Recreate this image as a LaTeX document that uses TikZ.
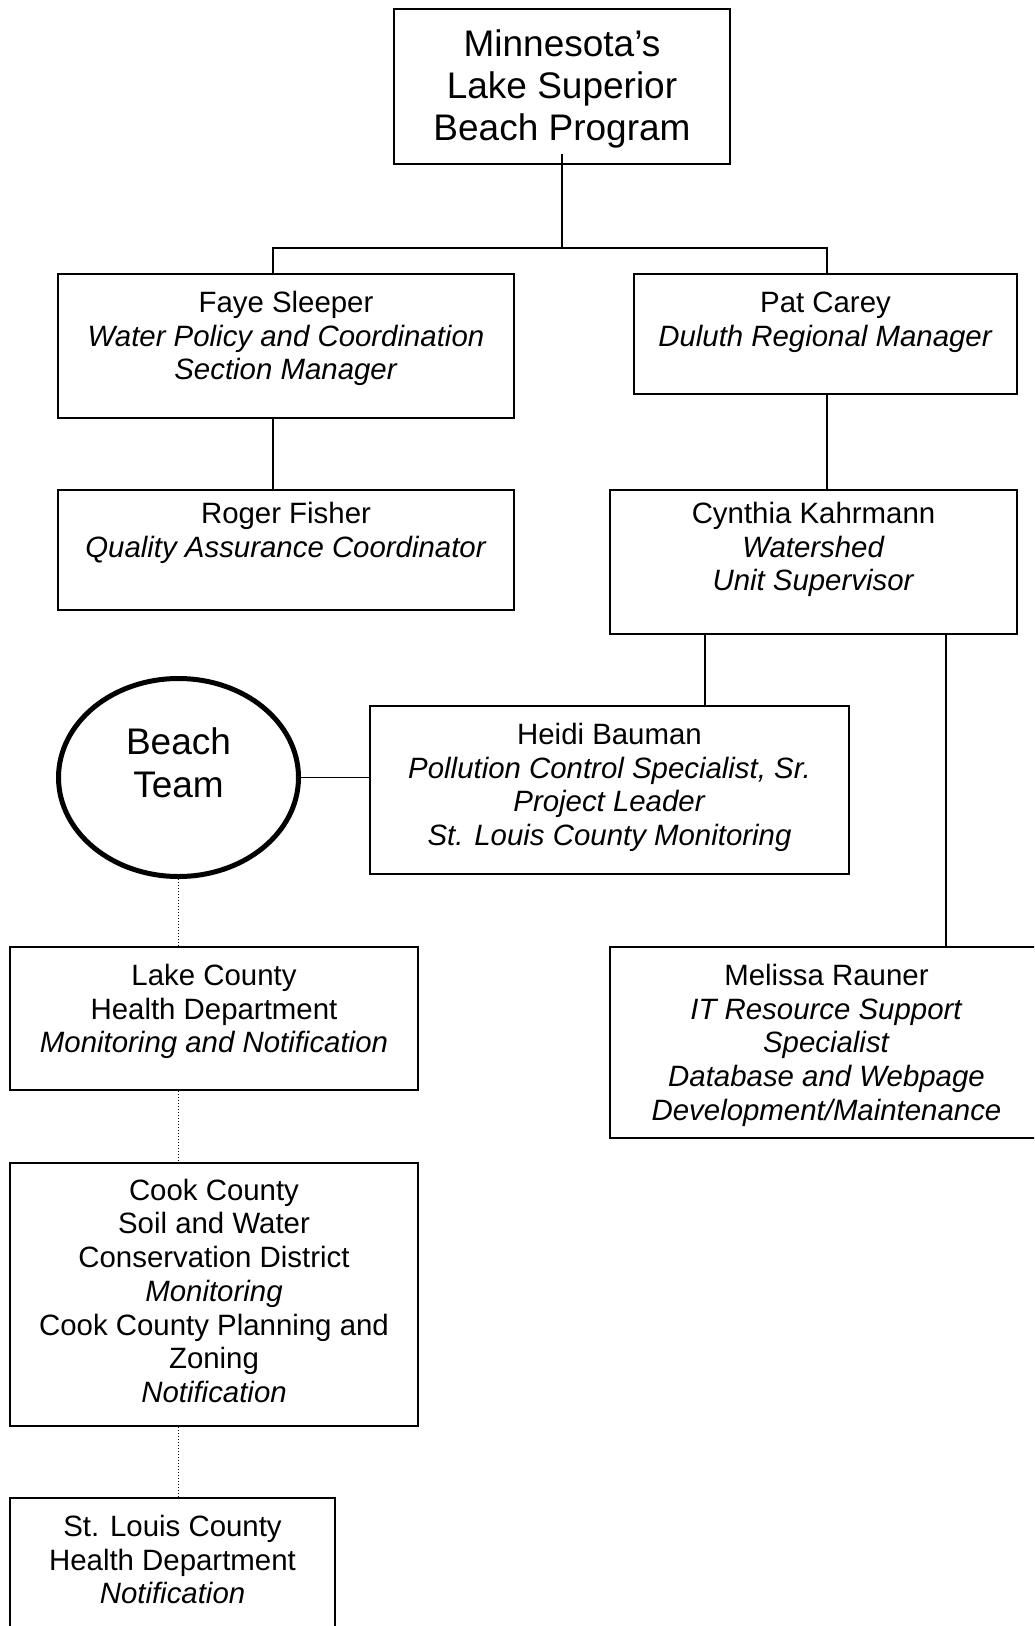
\documentclass[tikz,border=0pt]{standalone}
\usepackage{fontspec}
\setmainfont{Liberation Sans}
\usetikzlibrary{shapes.geometric,positioning}
\newcommand{\boxtext}[4][19.2pt]{\parbox[c][#3][t]{#2}{\centering\rule{0pt}{#1}#4}}

\begin{document}
\begin{tikzpicture}[
    x=0.5pt, y=-0.5pt,
    unit/.style={draw, line width=1pt, inner sep=0pt, anchor=north, font=\fontsize{14.7pt}{16.85pt}\selectfont},
    team/.style={draw, ellipse, line width=2.5pt, inner sep=0pt, minimum width=120pt, minimum height=99pt, font=\fontsize{18.5pt}{21.3pt}\selectfont},
    link/.style={line width=0.6pt},
    partner/.style={densely dotted, line width=0.5pt}
]
    \clip (0,0) rectangle (1034,1626);

    % program and managers
    \node[unit, font=\fontsize{18.5pt}{21pt}\selectfont] (program) at (562,8) {\boxtext[23.6pt]{168pt}{77.5pt}{Minnesota’s\\Lake Superior\\Beach Program}};
    \node[unit] (faye) at (286,273) {\boxtext{228pt}{72pt}{Faye Sleeper\\\textit{Water Policy and Coordination}\\\textit{Section Manager}}};
    \node[unit] (pat) at (825.5,273) {\boxtext{191.5pt}{60pt}{Pat Carey\\\textit{Duluth Regional Manager}}};
    \node[unit, below=35pt of faye] (roger) {\boxtext[16.7pt]{228pt}{60pt}{Roger Fisher\\\textit{Quality Assurance Coordinator}}};
    \node[unit] (cynthia) at (813.5,489) {\boxtext[16.7pt]{203.5pt}{72pt}{Cynthia Kahrmann\\\textit{Watershed}\\\textit{Unit Supervisor}}};
    \node[unit] (heidi) at (609.5,705) {\boxtext{239.5pt}{84pt}{Heidi Bauman\\\textit{Pollution Control Specialist, Sr.}\\\textit{Project Leader}\\\textit{St. Louis County Monitoring}}};
    \node[unit] (melissa) at (826.5,946) {\boxtext{216.5pt}{95.5pt}{Melissa Rauner\\\textit{IT Resource Support}\\\textit{Specialist}\\\textit{Database and Webpage}\\\textit{Development/Maintenance}}};

    % beach team and partners
    \node[team] (team) at (178.5,777.5) {\parbox[c][50pt][t]{60pt}{\centering\rule{0pt}{13.7pt}Beach\\Team}};
    \node[unit] (lake) at (214,946) {\boxtext{204pt}{71.5pt}{Lake County\\Health Department\\\textit{Monitoring and Notification}}};
    \node[unit, below=35.5pt of lake] (cook) {\boxtext[18.6pt]{204pt}{131.5pt}{Cook County\\Soil and Water\\Conservation District\\\textit{Monitoring}\\Cook County Planning and\\Zoning\\\textit{Notification}}};
    \node[unit] (stlouis) at (172.5,1497) {\boxtext{162.5pt}{71.5pt}{St. Louis County\\Health Department\\\textit{Notification}}};

    \coordinate (bus) at (562,248);
    \coordinate (busL) at (273,248);
    \coordinate (busR) at (827,248);
    \coordinate (tapH) at (705,0);
    \coordinate (tapM) at (946,0);

    \draw[link] ([yshift=5.5pt]program.south) -- (bus);
    \draw[link] (busL |- faye.north) -- (busL) -- (busR) -- (busR |- pat.north);
    \draw[link] (busL |- faye.south) -- (busL |- roger.north);
    \draw[link] (busR |- pat.south) -- (busR |- cynthia.north);
    \draw[link] (tapH |- cynthia.south) -- (tapH |- heidi.north);
    \draw[link] (tapM |- cynthia.south) -- (tapM |- melissa.north);
    \draw[link] (team.east) -- (team.east -| heidi.west);
    \draw[partner] (team.south) -- (team.south |- lake.north);
    \draw[partner] (team.south |- lake.south) -- (team.south |- cook.north);
    \draw[partner] (team.south |- cook.south) -- (team.south |- stlouis.north);
\end{tikzpicture}
\end{document}
